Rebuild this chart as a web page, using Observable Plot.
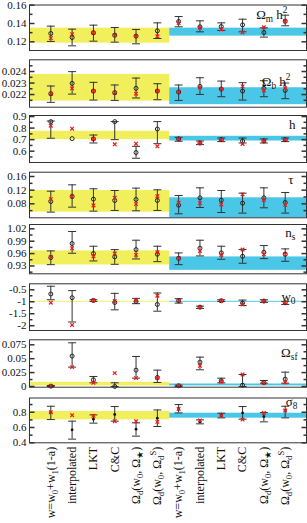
<!DOCTYPE html>
<html><head><meta charset="utf-8">
<script src="https://cdn.jsdelivr.net/npm/d3@7"></script>
<script src="https://cdn.jsdelivr.net/npm/@observablehq/plot@0.6"></script>
<style>
html,body{margin:0;padding:0;background:#fff;}
#chart{width:307px;}
#chart svg{display:block;overflow:visible;}
</style></head><body><div id="chart"></div>
<script>
// ---- categories (x tick labels) ----
const categories = [
  "w=w_{0}+w_{1}(1-a)", "interpolated", "LKT", "C&C", "Ω_{d}(w_{0}, Ω_{★})", "Ω_{d}(w_{0}, Ω_{d}^{S})",
  "w=w_{0}+w_{1}(1-a)", "interpolated", "LKT", "C&C", "Ω_{d}(w_{0}, Ω_{★})", "Ω_{d}(w_{0}, Ω_{d}^{S})"
];
const panelLabels = ["Ω_{m} h^{2}", "Ω_{b} h^{2}", "h", "τ", "n_{s}", "w_{0}", "Ω_{sf}", "σ_{8}"];

// ---- Ω_m h^2 ----
const omh2Mean = [0.1291,0.1247,0.1298,0.1273,0.1262,0.1320,0.1422,0.1364,0.1367,0.1385,0.1302,0.1425];
const omh2Hi   = [0.1371,0.1338,0.1382,0.1356,0.1335,0.1407,0.1476,0.1429,0.1407,0.1447,0.1353,0.1491];
const omh2Lo   = [0.1204,0.1156,0.1207,0.1196,0.1178,0.1236,0.1364,0.1309,0.1324,0.1309,0.1251,0.1375];
const omh2Red  = [0.1240,0.1284,0.1298,0.1270,0.1262,0.1260,0.1404,0.1356,0.1335,0.1302,0.1360,0.1425];
const omh2Band = [[0.1185,0.1349],[0.1262,0.1349]];
const omh2Ticks = [0.12,0.14,0.16], omh2Minor = [0.13,0.15];

// ---- Ω_b h^2 ----
const obh2Mean = [0.02207,0.02297,0.02230,0.02216,0.02254,0.02230,0.02222,0.02271,0.02248,0.02230,0.02254,0.02236];
const obh2Hi   = [0.02274,0.02399,0.02306,0.02283,0.02343,0.02294,0.02283,0.02346,0.02317,0.02303,0.02320,0.02300];
const obh2Lo   = [0.02132,0.02204,0.02152,0.02149,0.02170,0.02155,0.02149,0.02201,0.02181,0.02152,0.02181,0.02164];
const obh2Red  = [0.02207,0.02254,0.02230,0.02216,0.02207,0.02230,0.02222,0.02262,0.02248,0.02271,0.02236,0.02254];
const obh2Band = [[0.02143,0.02375],[0.02112,0.02259]];
const obh2Ticks = [0.022,0.023,0.024], obh2Minor = [0.0215,0.0225,0.0235,0.0245];

// ---- h ----
const hMean = [0.856,0.709,0.706,0.856,0.588,0.792,0.706,0.671,0.700,0.688,0.688,0.700];
const hHi   = [0.861,null,0.740,0.856,0.642,0.856,0.720,0.688,0.714,0.714,0.706,0.714];
const hLo   = [0.712,null,0.671,0.700,0.539,0.665,0.686,0.657,0.683,0.671,0.671,0.683];
const hRed  = [0.821,0.795,0.706,0.660,0.665,0.642,0.706,0.671,0.700,0.663,0.688,0.700];
const hBand = [[0.700,0.772],[0.688,0.729]];
const hTicks = [0.6,0.7,0.8,0.9], hMinor = [0.55,0.65,0.75,0.85];

// ---- τ ----
const tauMean = [0.0868,0.1015,0.0937,0.0898,0.0927,0.0898,0.0761,0.0976,0.0907,0.0820,0.0976,0.0839];
const tauHi   = [0.1170,0.1356,0.1240,0.1190,0.1259,0.1210,0.1044,0.1268,0.1190,0.1112,0.1268,0.1132];
const tauLo   = [0.0556,0.0702,0.0585,0.0605,0.0595,0.0605,0.0507,0.0693,0.0546,0.0527,0.0683,0.0527];
const tauRed  = [0.0937,0.1015,0.0751,0.0976,0.0790,0.1024,0.0829,0.0820,0.0780,0.1073,0.0917,0.0770];
const tauBand = [[0.0556,0.1190],[0.0390,0.0976]];
const tauTicks = [0.08,0.12,0.16], tauMinor = [0.06,0.10,0.14];

// ---- n_s ----
const nsMean = [0.9503,0.9843,0.9600,0.9520,0.9697,0.9584,0.9486,0.9730,0.9616,0.9535,0.9632,0.9584];
const nsHi   = [0.9665,1.0135,0.9778,0.9697,0.9924,0.9778,0.9616,0.9924,0.9778,0.9697,0.9795,0.9714];
const nsLo   = [0.9332,0.9608,0.9422,0.9340,0.9470,0.9405,0.9332,0.9543,0.9462,0.9365,0.9478,0.9413];
const nsRed  = [0.9519,0.9730,0.9535,0.9600,0.9568,0.9632,0.9486,0.9665,0.9568,0.9697,0.9584,0.9584];
const nsBand = [[0.9324,0.9665],[0.9194,0.9519]];
const nsTicks = [0.93,0.96,0.99,1.02], nsMinor = [0.915,0.945,0.975,1.005];

// ---- w_0 ----
const w0Mean = [-0.676,-0.831,-0.944,-1.030,-0.990,-1.113,-0.958,-1.225,-0.958,-1.056,-0.972,-1.040];
const w0Hi   = [-0.352,-0.535,-0.915,-0.648,-0.859,-0.634,-0.873,-1.183,-0.915,-0.930,-0.915,-0.986];
const w0Lo   = [-0.915,-1.845,-0.986,-1.338,-1.080,-1.394,-1.056,-1.282,-0.986,-1.155,-1.028,-1.113];
const w0Red  = [-1.040,-1.970,-0.944,-0.972,-0.944,-0.746,-0.958,-1.225,-0.958,-1.113,-0.972,-1.040];
const w0Band = [[-1.02,-0.98],[-1.02,-0.98]];
const w0Ticks = [-2,-1.5,-1,-0.5], w0Minor = [-1.75,-1.25,-0.75];

// ---- Ω_sf ----
const osfMean = [0.0006,0.0546,0.0120,0.0000,0.0294,0.0162,0.0012,0.0438,0.0102,0.0024,0.0072,0.0132];
const osfHi   = [0.0018,0.0786,0.0180,0.0066,0.0540,0.0294,0.0024,0.0528,0.0150,0.0216,0.0108,0.0258];
const osfLo   = [0.0000,0.0348,0.0066,0.0000,0.0150,0.0072,0.0000,0.0300,0.0066,0.0000,0.0060,0.0060];
const osfRed  = [0.0006,0.0348,0.0066,0.0240,0.0150,0.0150,0.0012,0.0372,0.0084,0.0216,0.0060,0.0072];
const osfBand = [[0.0010,0.0075],[0.0010,0.0045]];
const osfTicks = [0,0.025,0.05,0.075], osfMinor = [0.0125,0.0375,0.0625];

// ---- σ_8 ----
const s8Mean = [0.800,0.570,0.709,0.770,0.578,0.722,0.843,0.674,0.757,0.791,0.743,0.822];
const s8Hi   = [0.878,0.683,0.765,0.874,0.661,0.830,0.900,0.700,0.787,0.874,0.796,0.878];
const s8Lo   = [0.704,0.448,0.657,0.683,0.487,0.613,0.791,0.648,0.726,0.709,0.674,0.726];
const s8Red  = [0.800,0.761,0.752,0.683,0.683,0.674,0.843,0.691,0.757,0.704,0.791,0.822];
const s8Band = [[0.700,0.809],[0.722,0.787]];
const s8Ticks = [0.4,0.6,0.8], s8Minor = [0.5,0.7,0.9];

// ---- panel assembly ----
const panels = [
  {mean: omh2Mean, hi: omh2Hi, lo: omh2Lo, red: omh2Red, band: omh2Band, ticks: omh2Ticks, minor: omh2Minor, domain:[0.1105,0.1602], h:55, mt:4.5, mb:5, ldx:-19, ldy:13.5},
  {mean: obh2Mean, hi: obh2Hi, lo: obh2Lo, red: obh2Red, band: obh2Band, ticks: obh2Ticks, minor: obh2Minor, domain:[0.0209,0.02502], h:56, mt:4.3, mb:4.3, ldx:-16, ldy:25.7},
  {mean: hMean, hi: hHi, lo: hLo, red: hRed, band: hBand, ticks: hTicks, minor: hMinor, domain:[0.502,0.909], h:56, mt:4, mb:5, ldx:-11, ldy:13.3},
  {mean: tauMean, hi: tauHi, lo: tauLo, red: tauRed, band: tauBand, ticks: tauTicks, minor: tauMinor, domain:[0.039,0.1726], h:54, mt:4.7, mb:3.7, ldx:-13, ldy:11.3},
  {mean: nsMean, hi: nsHi, lo: nsLo, red: nsRed, band: nsBand, ticks: nsTicks, minor: nsMinor, domain:[0.911,1.0305], h:57, mt:3, mb:4.7, ldx:-11, ldy:12.7},
  {mean: w0Mean, hi: w0Hi, lo: w0Lo, red: w0Red, band: w0Band, ticks: w0Ticks, minor: w0Minor, domain:[-2.2,-0.25], h:57, mt:5.3, mb:5, ldx:-11, ldy:16.7},
  {mean: osfMean, hi: osfHi, lo: osfLo, red: osfRed, band: osfBand, ticks: osfTicks, minor: osfMinor, domain:[-0.0013,0.084], h:57, mt:4.3, mb:5.3, ldx:-9, ldy:17.4},
  {mean: s8Mean, hi: s8Hi, lo: s8Lo, red: s8Red, band: s8Band, ticks: s8Ticks, minor: s8Minor, domain:[0.4,0.986], h:131, mt:5.5, mb:80.7, ldx:-9, ldy:7.5, filled:true}
];
const bandColors = ["#f1ef5b", "#4ac6e6"];
const bandX = [[-1, 5.58], [5.58, 12]];

// custom symbols
const rOf = size => Math.sqrt(size / Math.PI);
const capSym = {draw(c, s){ const r = rOf(s); c.moveTo(-r,0); c.lineTo(r,0); }};
const crossSym = {draw(c, s){ const r = rOf(s); c.moveTo(-r,-r); c.lineTo(r,r); c.moveTo(r,-r); c.lineTo(-r,r); }};
const tickL = {draw(c, s){ const r = rOf(s); c.moveTo(0,0); c.lineTo(r,0); }};
const tickR = {draw(c, s){ const r = rOf(s); c.moveTo(0,0); c.lineTo(-r,0); }};

const FONT = "'Liberation Serif','Times New Roman',serif";
const chart = document.getElementById("chart");

panels.forEach((p, k) => {
  const last = k === panels.length - 1;
  const rows = d3.range(12).map(j => ({x: j, m: p.mean[j], lo: p.lo[j], hi: p.hi[j], r: p.red[j]}));
  const bars = rows.filter(d => d.lo != null && d.hi != null);
  const bands = p.band.map((b, i) => ({x1: bandX[i][0], x2: bandX[i][1], y1: b[0], y2: b[1], fill: bandColors[i]}));
  const marks = [
    Plot.rect(bands, {x1: "x1", x2: "x2", y1: "y1", y2: "y2", fill: d => d.fill}),
    Plot.ruleX(bars, {x: "x", y1: "lo", y2: "hi", stroke: "#333", strokeWidth: 1}),
    Plot.dot(bars, {x: "x", y: "hi", symbol: capSym, r: 4, stroke: "#333", strokeWidth: 1}),
    Plot.dot(bars, {x: "x", y: "lo", symbol: capSym, r: 4, stroke: "#333", strokeWidth: 1}),
    p.filled
      ? Plot.dot(rows, {x: "x", y: "m", r: 1.4, fill: "#111", stroke: "none"})
      : Plot.dot(rows, {x: "x", y: "m", r: 2, stroke: "#222", strokeWidth: 1, fill: "none"}),
    Plot.dot(rows, {x: "x", y: "r", symbol: crossSym, r: 1.8, stroke: "#f01818", strokeWidth: 1.2}),
    Plot.frame({stroke: "#333", strokeWidth: 1}),
    Plot.dot(p.ticks, {y: d => d, frameAnchor: "left", symbol: tickL, r: 5, stroke: "#333"}),
    Plot.dot(p.minor, {y: d => d, frameAnchor: "left", symbol: tickL, r: 3, stroke: "#333"}),
    Plot.dot(p.ticks, {y: d => d, frameAnchor: "right", symbol: tickR, r: 5, stroke: "#333"}),
    Plot.dot(p.minor, {y: d => d, frameAnchor: "right", symbol: tickR, r: 3, stroke: "#333"}),
    Plot.axisY({ticks: p.ticks, tickSize: 0, tickPadding: 3, tickFormat: d => String(d), fontSize: 11, fill: "#111"}),
    Plot.text([panelLabels[k]], {text: d => d, frameAnchor: "top-right", textAnchor: "end", lineAnchor: "bottom", dx: p.ldx, dy: p.ldy, fontSize: 13, fill: "#111"})
  ];
  if (last) marks.push(Plot.axisX({ticks: d3.range(12), tickFormat: j => categories[j], tickRotate: -90, tickSize: 0, tickPadding: 4, fontSize: 12, fill: "#111"}));
  const svg = Plot.plot({
    width: 307, height: p.h,
    marginLeft: 29, marginRight: 1, marginTop: p.mt, marginBottom: p.mb,
    x: {type: "linear", domain: [-1, 12], axis: last ? undefined : null},
    y: {domain: p.domain},
    style: {fontFamily: FONT, fontSize: "11px", background: "white", color: "#111"},
    marks
  });
  chart.appendChild(svg);
});

// convert _{..} and ^{..} markup into real sub/superscript tspans
function richify(t) {
  const s = t.textContent;
  if (!/[_^]\{/.test(s)) return;
  const F = parseFloat(getComputedStyle(t).fontSize) || 12;
  const small = F * 0.72;
  t.textContent = "";
  const parts = [];
  const re = /([_^])\{([^}]*)\}/g;
  let last = 0, m;
  while ((m = re.exec(s))) {
    if (m.index > last) parts.push({txt: s.slice(last, m.index), off: 0});
    parts.push({txt: m[2], off: m[1] === "_" ? 0.25 * F : -0.42 * F, small: true});
    last = re.lastIndex;
  }
  if (last < s.length) parts.push({txt: s.slice(last), off: 0});
  let cur = 0;
  for (const p of parts) {
    const ts = document.createElementNS("http://www.w3.org/2000/svg", "tspan");
    ts.textContent = p.txt;
    const dy = p.off - cur;
    if (dy) ts.setAttribute("dy", dy.toFixed(2));
    if (p.small) ts.setAttribute("font-size", small.toFixed(2));
    cur = p.off;
    t.appendChild(ts);
  }
}
chart.querySelectorAll("text").forEach(richify);
</script></body></html>
